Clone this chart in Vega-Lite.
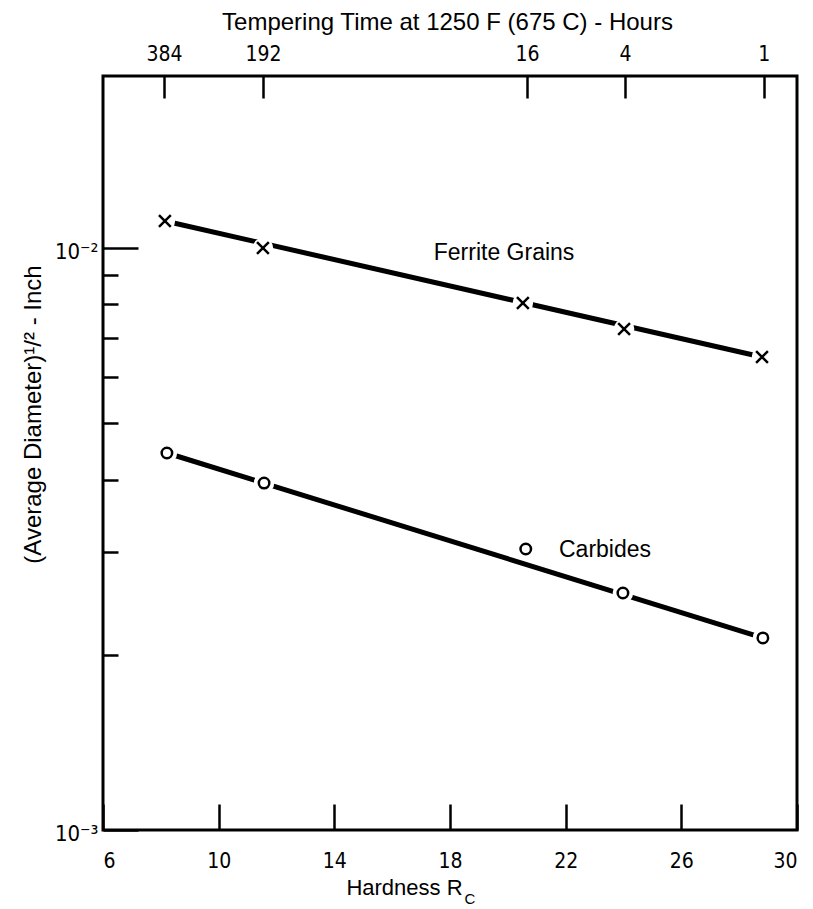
{
  "$schema": "https://vega.github.io/schema/vega-lite/v6.json",
  "autosize": {"type": "none"},
  "padding": {"left": 103, "top": 76, "right": 16, "bottom": 79},
  "width": 694,
  "height": 754,
  "background": "white",
  "config": {
    "view": {"stroke": "black", "strokeWidth": 3},
    "axis": {
      "domain": false,
      "grid": false,
      "tickColor": "black",
      "tickWidth": 2.5,
      "labelColor": "black",
      "titleColor": "black",
      "labelFont": "DejaVu Sans Condensed",
      "titleFont": "Liberation Sans",
      "titleFontWeight": "normal",
      "labelFontSize": 21,
      "titleFontSize": 22
    }
  },
  "datasets": {
    "points": [
      {"series": "Ferrite Grains", "hardness": 8.14, "diameter": 0.01113},
      {"series": "Ferrite Grains", "hardness": 11.53, "diameter": 0.0100},
      {"series": "Ferrite Grains", "hardness": 20.52, "diameter": 0.008045},
      {"series": "Ferrite Grains", "hardness": 24.02, "diameter": 0.007258},
      {"series": "Ferrite Grains", "hardness": 28.79, "diameter": 0.006498},
      {"series": "Carbides", "hardness": 8.21, "diameter": 0.004444},
      {"series": "Carbides", "hardness": 11.57, "diameter": 0.003946},
      {"series": "Carbides", "hardness": 20.62, "diameter": 0.00304},
      {"series": "Carbides", "hardness": 23.98, "diameter": 0.002554},
      {"series": "Carbides", "hardness": 28.82, "diameter": 0.002138}
    ],
    "fits": [
      {"series": "Ferrite Grains", "hardness": 8.14, "diameter": 0.01113},
      {"series": "Ferrite Grains", "hardness": 28.79, "diameter": 0.006498},
      {"series": "Carbides", "hardness": 8.21, "diameter": 0.004444},
      {"series": "Carbides", "hardness": 28.82, "diameter": 0.002138}
    ],
    "labels": [
      {"text": "Ferrite Grains", "hardness": 19.87, "diameter": 0.0098},
      {"text": "Carbides", "hardness": 23.36, "diameter": 0.003027}
    ],
    "sub": [
      {"text": "C", "hardness": 18.69, "diameter": 0.001}
    ]
  },
  "encoding": {
    "x": {"field": "hardness", "type": "quantitative", "axis": null, "scale": {"domain": [6, 30], "nice": false, "zero": false}},
    "y": {"field": "diameter", "type": "quantitative", "axis": null, "scale": {"type": "log", "domain": [0.001, 0.01975], "nice": false}}
  },
  "layer": [
    {
      "data": {"name": "fits"},
      "mark": {"type": "line", "stroke": "black", "strokeWidth": 5, "strokeCap": "butt"},
      "encoding": {
        "detail": {"field": "series"},
        "x": {"field": "hardness", "type": "quantitative",
          "axis": {
            "orient": "bottom",
            "values": [6, 10, 14, 18, 22, 26, 30],
            "tickSize": -26,
            "labelPadding": 46,
            "title": "Hardness R",
            "titleX": 301,
            "titleY": 57,
            "titleBaseline": "middle",
            "titleAlign": "center"
          }
        },
        "y": {"field": "diameter", "type": "quantitative",
          "axis": {
            "orient": "left",
            "values": [0.001, 0.002, 0.003, 0.004, 0.005, 0.006, 0.007, 0.008, 0.009, 0.01],
            "labelExpr": "datum.value == 0.01 ? '10⁻²' : (datum.value == 0.001 ? '10⁻³' : '')",
            "tickSize": {"condition": {"test": "datum.value == 0.01 || datum.value == 0.001", "value": -35}, "value": -15},
            "labelPadding": 40,
            "labelFontSize": 22,
            "labelBaseline": "middle",
            "labelOffset": 3,
            "title": "(Average Diameter)¹/² - Inch",
            "titleFontSize": 24,
            "titleX": -70,
            "titleY": 338,
            "titleAngle": -90,
            "titleBaseline": "middle",
            "titleAlign": "center"
          }
        }
      }
    },
    {
      "data": {"name": "points"},
      "mark": {"type": "circle", "color": "white", "opacity": 1, "size": 420},
      "encoding": {
        "x": {"field": "hardness", "type": "quantitative",
          "axis": {
            "orient": "top",
            "values": [8.11, 11.53, 20.66, 24.05, 28.85],
            "labelExpr": "datum.value < 10 ? '384' : (datum.value < 15 ? '192' : (datum.value < 22 ? '16' : (datum.value < 26 ? '4' : '1')))",
            "tickSize": -22,
            "labelPadding": 34,
            "title": "Tempering Time at 1250 F (675 C) - Hours",
            "titleFontSize": 24,
            "titleX": 344,
            "titleY": -54,
            "titleBaseline": "middle",
            "titleAlign": "center"
          }
        }
      }
    },
    {
      "data": {"name": "points"},
      "mark": {"type": "point", "filled": false, "stroke": "black", "strokeWidth": 2.5, "opacity": 1},
      "encoding": {
        "shape": {"field": "series", "type": "nominal", "legend": null,
          "scale": {"domain": ["Ferrite Grains", "Carbides"], "range": ["M-1,-1L1,1M-1,1L1,-1", "circle"]}},
        "size": {"field": "series", "type": "nominal", "legend": null,
          "scale": {"domain": ["Ferrite Grains", "Carbides"], "range": [140, 110]}}
      }
    },
    {
      "data": {"name": "labels"},
      "mark": {"type": "text", "font": "Liberation Sans", "fontSize": 23, "align": "center", "baseline": "middle", "color": "black"},
      "encoding": {"text": {"field": "text"}}
    },
    {
      "data": {"name": "sub"},
      "mark": {"type": "text", "font": "Liberation Sans", "fontSize": 15, "align": "center", "baseline": "middle", "dy": 69, "color": "black"},
      "encoding": {"text": {"field": "text"}}
    }
  ],
  "resolve": {"axis": {"x": "independent", "y": "independent"}}
}
